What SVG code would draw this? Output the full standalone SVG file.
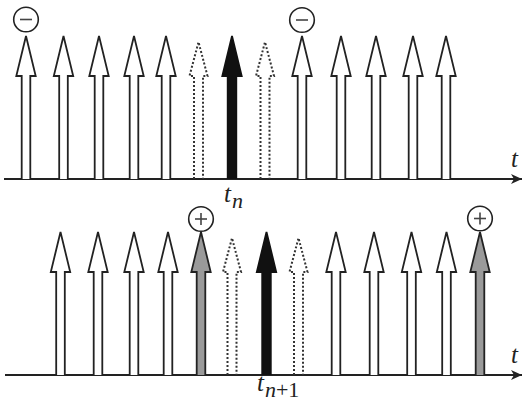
<svg xmlns="http://www.w3.org/2000/svg" width="523" height="409" viewBox="0 0 523 409">
<style>
.w{fill:#fff;stroke:#222;stroke-width:1.8;stroke-linejoin:miter}
.k{fill:#111;stroke:#111;stroke-width:1.8}
.g{fill:#9a9a9a;stroke:#222;stroke-width:1.8}
.d{fill:none;stroke:#333;stroke-width:2;stroke-dasharray:2 2}
.axis{stroke:#222;stroke-width:2;fill:none}
.sign{fill:#fff;stroke:#222;stroke-width:1.6}
.sl{stroke:#444;stroke-width:1.6}
.lbl{fill:#222}
</style>
<defs>
<path id="arr" d="M -4.3 0 V -103 H -9.7 L 0 -143 L 9.7 -103 H 4.3 V 0"/>
<path id="darr" d="M -4.5 0 V -103 H -9 L 0 -137 L 9 -103 H 4.5 V 0"/>
<marker id="ah" markerWidth="12" markerHeight="10" refX="11" refY="5" orient="auto" markerUnits="userSpaceOnUse">
<path d="M 0 0 L 11 5 L 0 10 L 3 5 Z" fill="#222"/>
</marker>
</defs>
<g id="connectors">
<line class="axis" x1="4" y1="179" x2="522" y2="179" marker-end="url(#ah)"/>
<line class="axis" x1="5" y1="375" x2="522" y2="375" marker-end="url(#ah)"/>
</g>
<g id="top-row">
<use href="#arr" class="w" x="26" y="179"/>
<use href="#arr" class="w" x="63.5" y="179"/>
<use href="#arr" class="w" x="99" y="179"/>
<use href="#arr" class="w" x="134" y="179"/>
<use href="#arr" class="w" x="166" y="179"/>
<use href="#darr" class="d" x="198.5" y="179"/>
<use href="#arr" class="k" x="232" y="179"/>
<use href="#darr" class="d" x="265" y="179"/>
<use href="#arr" class="w" x="302" y="179"/>
<use href="#arr" class="w" x="341" y="179"/>
<use href="#arr" class="w" x="376" y="179"/>
<use href="#arr" class="w" x="413" y="179"/>
<use href="#arr" class="w" x="446" y="179"/>
</g>
<g id="bottom-row">
<use href="#arr" class="w" x="60.5" y="375"/>
<use href="#arr" class="w" x="98" y="375"/>
<use href="#arr" class="w" x="134" y="375"/>
<use href="#arr" class="w" x="168" y="375"/>
<use href="#arr" class="g" x="201" y="375"/>
<use href="#darr" class="d" x="232" y="375"/>
<use href="#arr" class="k" x="266.5" y="375"/>
<use href="#darr" class="d" x="298.5" y="375"/>
<use href="#arr" class="w" x="336" y="375"/>
<use href="#arr" class="w" x="374" y="375"/>
<use href="#arr" class="w" x="411.5" y="375"/>
<use href="#arr" class="w" x="446.5" y="375"/>
<use href="#arr" class="g" x="480" y="375"/>
</g>
<g id="minus-1"><circle class="sign" cx="26" cy="19.5" r="12.3"/><line class="sl" x1="20" y1="19.5" x2="32" y2="19.5"/></g>
<g id="minus-2"><circle class="sign" cx="302" cy="20" r="12.3"/><line class="sl" x1="296" y1="20" x2="308" y2="20"/></g>
<g id="plus-1"><circle class="sign" cx="201" cy="219" r="12.3"/><line class="sl" x1="195" y1="219" x2="207" y2="219"/><line class="sl" x1="201" y1="213" x2="201" y2="225"/></g>
<g id="plus-2"><circle class="sign" cx="480" cy="218.5" r="12.3"/><line class="sl" x1="474" y1="218.5" x2="486" y2="218.5"/><line class="sl" x1="480" y1="212.5" x2="480" y2="224.5"/></g>
<g id="labels" font-family="'Liberation Serif', 'Times New Roman', serif" font-style="italic">
<text class="lbl" x="511" y="167" font-size="25">t</text>
<text class="lbl" x="511" y="363" font-size="25">t</text>
<text class="lbl" x="224" y="202" font-size="25">t<tspan font-size="22" dx="1" dy="6">n</tspan></text>
<text class="lbl" x="257" y="391" font-size="25">t<tspan font-size="22" dx="1" dy="6">n</tspan><tspan font-size="22" font-style="normal">+1</tspan></text>
</g>
</svg>
